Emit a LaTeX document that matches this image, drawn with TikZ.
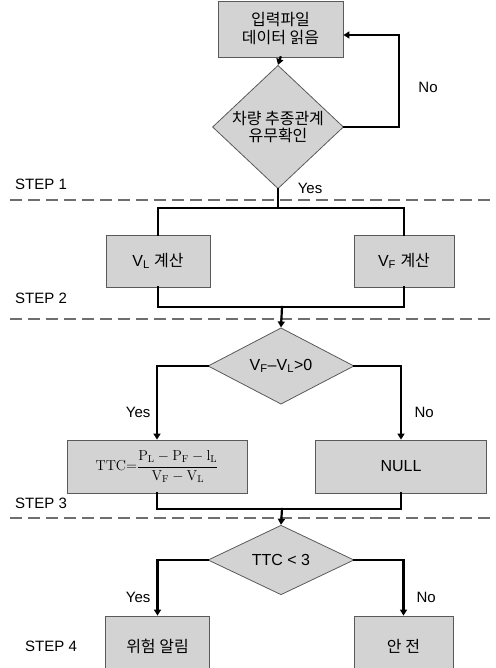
\documentclass[tikz,border=0pt]{standalone}
\usepackage[no-math]{fontspec}
\setmainfont{Liberation Sans}
\newfontfamily\kr{Noto Sans CJK KR}
\usetikzlibrary{shapes.geometric,arrows.meta}
\definecolor{boxfill}{RGB}{211,211,211}
\definecolor{boxline}{RGB}{90,90,90}
\definecolor{dashgray}{RGB}{110,110,110}

\begin{document}
\begin{tikzpicture}[x=1pt,y=-1pt,
    stepbox/.style={rectangle,draw=boxline,fill=boxfill,line width=0.8pt,inner sep=0pt,font=\fontsize{16}{19}\selectfont},
    testbox/.style={diamond,draw=boxline,fill=boxfill,line width=0.8pt,inner sep=0pt,minimum width=146pt,minimum height=67pt,font=\fontsize{16}{19}\selectfont},
    flow/.style={line width=2.2pt,line cap=rect},
    arr/.style={flow,-{Triangle[width=7pt,length=6pt]}},
    lab/.style={font=\fontsize{15}{18}\selectfont}]
	\clip (0,0) rectangle (495,668);

	% separations
	\foreach \y in {200,319,518} {
		\draw[dashgray,line width=1.2pt,dash pattern=on 12pt off 6pt] (10,\y) -- (495,\y);
	}
	\foreach \n/\x/\y in {1/15/184,2/15/298,3/15/503,4/25/646} {
		\node[lab,anchor=west,inner sep=0pt] (step\n) at (\x,\y) {STEP \n};
	}

	% step 1
	\node[stepbox,minimum width=125pt,minimum height=56pt,align=center] (read) at (280.5,29) {\kr 입력파일\\[-1pt]\kr 데이터 읽음};
	\node[testbox,minimum width=131pt,minimum height=91pt,align=center] (follow) at (278,127) {\kr 차량 추종관계\\[-2pt]\kr 유무확인};
	\draw[arr] (read.south) -- (follow.north);
	\coordinate (back) at (399,127);
	\draw[arr] (follow.east) -- (back) |- ([yshift=-6pt]read.east);
	\node[lab] (no1) at (428,87) {No};
	\coordinate (split1) at (278,208);
	\draw[flow] (follow.south) -- (split1);
	\node[lab] (yes1) at (310,188) {Yes};

	% step 2
	\node[stepbox,minimum width=104pt,minimum height=52pt] (vl) at (158,261) {V\textsubscript{L} {\kr 계산}};
	\node[stepbox,minimum width=100pt,minimum height=52pt] (vf) at (404,261) {V\textsubscript{F} {\kr 계산}};
	\draw[flow] (vl.north) |- (split1) -| (vf.north);
	\coordinate (join1) at (282,307);
	\draw[flow] (vl.south) |- (join1) -| (vf.south);

	% step 3
	\node[testbox] (rel) at (281,366) {V\textsubscript{F}--V\textsubscript{L}>0};
	\draw[arr] (join1) -- (rel.north);
	\node[stepbox,minimum width=180pt,minimum height=53pt] (ttc) at (157,466.5)
		{\fontsize{14}{16}\selectfont $\mathrm{TTC}{=}\displaystyle\frac{\mathrm{P_L}-\mathrm{P_F}-\mathrm{l_L}}{\mathrm{V_F}-\mathrm{V_L}}$};
	\node[stepbox,minimum width=171pt,minimum height=53pt] (null) at (401,466.5) {NULL};
	\draw[arr] (rel.west) -| (ttc.north);
	\draw[arr] (rel.east) -| (null.north);
	\node[lab,anchor=east] (yes2) at (154,412) {Yes};
	\node[lab,anchor=west] (no2) at (411,412) {No};
	\coordinate (join2) at (282,509);
	\draw[flow] (ttc.south) |- (join2) -| (null.south);

	% step 4
	\node[testbox] (limit) at (281,560) {TTC < 3};
	\draw[arr] (join2) -- (limit.north);
	\node[stepbox,minimum width=104pt,minimum height=60pt] (alarm) at (157.5,646) {\kr 위험 알림};
	\node[stepbox,minimum width=99pt,minimum height=60pt] (safe) at (403.5,646) {\kr 안 전};
	\draw[arr] (limit.west) -| (alarm.north);
	\draw[arr] (limit.east) -| (safe.north);
	\node[lab,anchor=east] (yes3) at (154,597) {Yes};
	\node[lab,anchor=west] (no3) at (413,597) {No};
\end{tikzpicture}
\end{document}
